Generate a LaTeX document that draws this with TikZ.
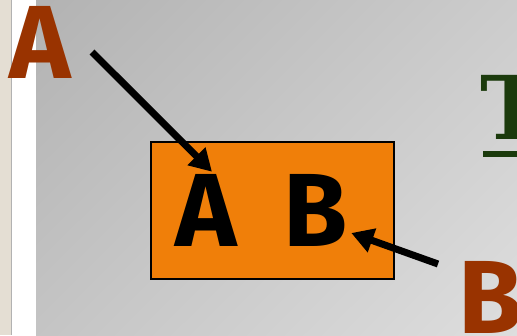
\documentclass[tikz,border=0pt]{standalone}
\usepackage{fontspec}
\setmainfont{Fira Sans}
\newfontfamily\titlefont{DejaVu Serif}
\usetikzlibrary{arrows.meta,shadings}
\definecolor{slideorange}{HTML}{F07F09}
\definecolor{labelbrown}{HTML}{993300}
\definecolor{titlegreen}{HTML}{1B3A0C}
\definecolor{sidebeige}{HTML}{E4DED3}

\begin{document}
\begin{tikzpicture}[x=1pt,y=-1pt,
  big/.style={font=\fontsize{104}{104}\bfseries\selectfont,inner sep=0pt,anchor=base},
  ptr/.style={line width=7pt,-{Triangle[length=22pt,width=24pt]}}]
\clip (0,0) rectangle (517,335);
\fill[sidebeige] (0,0) rectangle (11,335);
\fill[gray!60] (11,0) rectangle (12,335);
\fill[white] (12,0) rectangle (36,335);
\shade[upper left=black!30,upper right=black!20,lower left=black!23,lower right=black!13] (36,0) rectangle (517,335);
\node[draw=black,line width=1.2pt,fill=slideorange,minimum width=243pt,minimum height=137pt] (box) at (272.5,210.5) {};
\node[big] (boxA) at (206,246) {A};
\node[big] (boxB) at (316,246) {B};
\node[big,text=labelbrown] (labA) at (40,78) {A};
\node[big,text=labelbrown] (labB) at (491,333) {B};
\node[font=\titlefont\bfseries\fontsize{88}{88}\selectfont,text=titlegreen,inner sep=0pt,anchor=base west] (title) at (480,139) {T};
\draw[titlegreen,line width=6pt] (483,154) -- (520,154);
\coordinate (tailA) at (92,52);
\coordinate (tailB) at (438,264);
\draw[ptr] (tailA) -- ([xshift=6pt,yshift=2pt]boxA.north);
\draw[ptr] (tailB) -- ([xshift=3pt,yshift=13pt]boxB.base east);
\end{tikzpicture}
\end{document}
